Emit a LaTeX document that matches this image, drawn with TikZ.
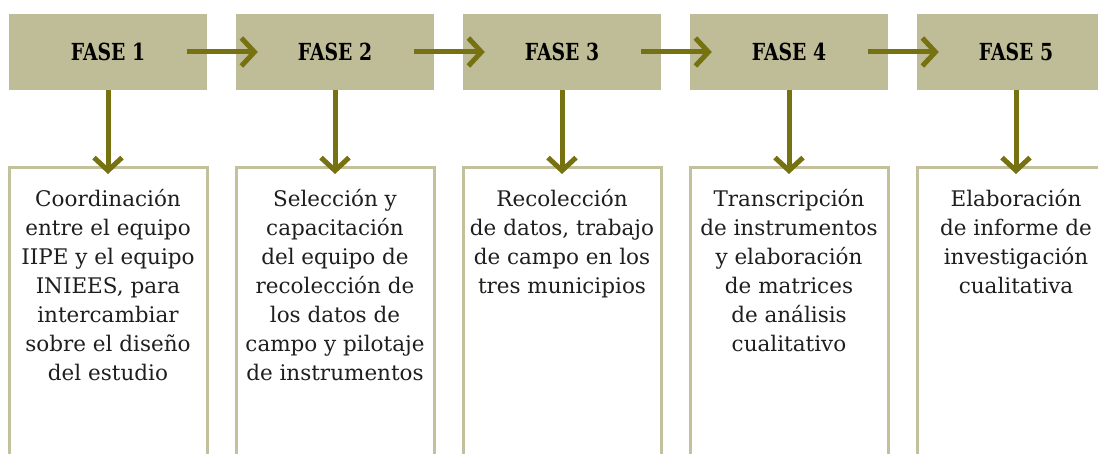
\documentclass[tikz,border=0pt]{standalone}
\usepackage{fontspec}
\setmainfont{DejaVu Serif}
\newfontfamily\hdrfont[FakeStretch=0.8]{DejaVu Serif}
\usetikzlibrary{arrows.meta}
\definecolor{hdrfill}{HTML}{BFBD97}
\definecolor{arrowol}{HTML}{767211}
\definecolor{boxline}{HTML}{C2C19C}
\definecolor{txt}{HTML}{1E1E1E}
\tikzset{
  phase/.style={fill=hdrfill, minimum width=198pt, minimum height=76pt, inner sep=0pt,
    font=\hdrfont\bfseries\fontsize{23.5}{26}\selectfont, text=black},
  desc/.style={align=center, inner sep=0pt, anchor=north, text=txt,
    font=\fontsize{21.5}{29}\selectfont},
  flow/.style={draw=arrowol, line width=5pt, -{Straight Barb[length=13pt,width=28pt]}},
  frame/.style={draw=boxline, line width=3pt}
}
\begin{document}
\begin{tikzpicture}[x=1pt,y=-1pt]
\useasboundingbox (0,0) rectangle (1098,454);
% header boxes
\foreach \i in {0,...,4}{
  \pgfmathsetmacro{\cx}{108+227*\i}
  \node[phase] (h\i) at (\cx,52) {FASE \the\numexpr\i+1\relax};
  \coordinate (t\i) at (\cx,168);
  \draw[frame] (\cx-99,470) -- (\cx-99,168) -- (\cx+99,168) -- (\cx+99,470);
}
% descriptions
\node[desc] (d0) at (108,189) {Coordinación\\entre el equipo\\IIPE y el equipo\\INIEES, para\\intercambiar\\sobre el diseño\\del estudio};
\node[desc] (d1) at (335,189) {Selección y\\capacitación\\del equipo de\\recolección de\\los datos de\\campo y pilotaje\\de instrumentos};
\node[desc] (d2) at (562,189) {Recolección\\de datos, trabajo\\de campo en los\\tres municipios};
\node[desc] (d3) at (789,189) {Transcripción\\de instrumentos\\y elaboración\\de matrices\\de análisis\\cualitativo};
\node[desc] (d4) at (1016,189) {Elaboración\\de informe de\\investigación\\cualitativa};
% horizontal arrows
\foreach \i/\j in {0/1,1/2,2/3,3/4}{
  \draw[flow] ([xshift=79pt]h\i.center) -- ([xshift=22pt]h\j.west);
}
% vertical arrows
\foreach \i in {0,...,4}{
  \draw[flow] (h\i.south) -- ([yshift=-6pt]t\i);
}
\end{tikzpicture}
\end{document}
